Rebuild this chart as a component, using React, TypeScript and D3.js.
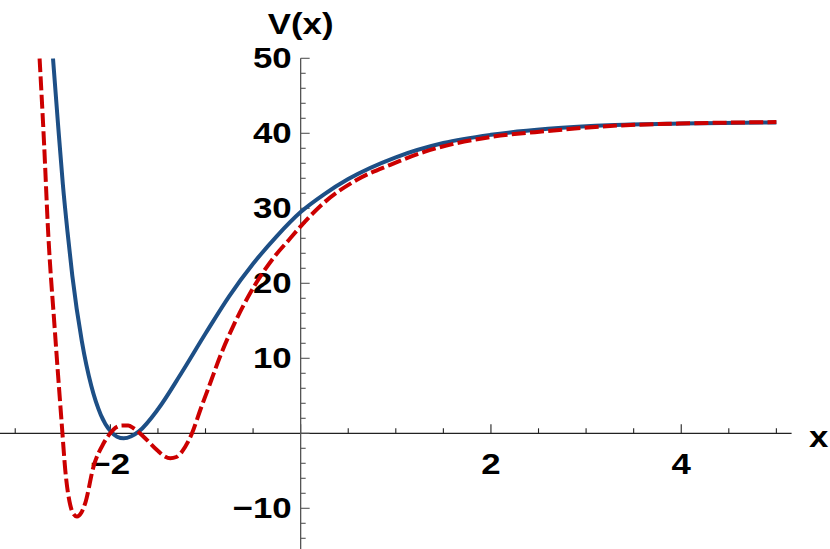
import React from 'react';
import * as d3 from 'd3';

// values
const blueX = [-2.603, -2.55, -2.5, -2.45, -2.4, -2.3, -2.2, -2.1, -2.0, -1.93, -1.86, -1.78, -1.7, -1.5, -1.25, -1.0, -0.75, -0.5, -0.25, 0, 0.25, 0.5, 1.0, 1.5, 2.0, 2.6, 3.3, 4.0, 5.0];
const blueV = [50, 41.2, 33.3, 26.8, 21.0, 12.3, 6.3, 2.45, 0.3, -0.45, -0.67, -0.4, 0.25, 3.2, 8.1, 13.3, 18.3, 22.6, 26.3, 29.5, 31.9, 33.9, 36.8, 38.7, 39.8, 40.6, 41.1, 41.3, 41.45];

const redX = [-2.744, -2.697, -2.655, -2.584, -2.509, -2.474, -2.421, -2.395, -2.351, -2.306, -2.264, -2.177, -2.071, -2.001, -1.948, -1.878, -1.812, -1.756, -1.651, -1.51, -1.444, -1.37, -1.307, -1.248, -1.142, -1.055, -0.95, -0.845, -0.705, -0.53, -0.285, -0.109, 0, 0.241, 0.592, 0.942, 1.292, 1.643, 1.993, 2.589, 3.289, 3.989, 5.0];
const redV = [50, 38.7, 27.1, 13.8, 0.89, -4.9, -9.6, -10.6, -11.1, -10.6, -9.3, -4.45, -1.33, 0, 0.71, 1.04, 1.04, 0.67, -0.45, -2.23, -2.96, -3.33, -3.16, -2.45, 0, 3.11, 6.71, 10.3, 14.4, 18.7, 23.4, 26.0, 27.6, 30.7, 33.8, 35.8, 37.5, 38.7, 39.5, 40.3, 41.0, 41.3, 41.5];

const xMajor = [-2, 2, 4];
const xMinor = d3.range(-3, 5.01, 0.5);
const yMajor = [-10, 10, 20, 30, 40, 50];
const yMinor = d3.range(-14, 50.01, 2);

const W = 830;
const H = 549;

const fmt = (v: number) => (v < 0 ? '\u2212' + Math.abs(v) : String(v));

// bold label, a bit wider than plain Arial like the original
const Label = ({ x, y, anchor = 'start', children }: { x: number; y: number; anchor?: string; children: React.ReactNode }) => (
  <text
    transform={`translate(${x},${y}) scale(1.2,1)`}
    textAnchor={anchor}
    fontFamily="'Liberation Sans', Arial, sans-serif"
    fontWeight='bold'
    fontSize={29}
    fill='#000'>
    {children}
  </text>
);

const App = () => {
  const x = d3.scaleLinear().domain([-3.16, 5.16]).range([0, 791.6]);
  const y = d3.scaleLinear().domain([-15, 50]).range([545.8, 58.3]);

  const line = d3
    .line<[number, number]>()
    .x((d) => x(d[0]))
    .y((d) => y(d[1]))
    .curve(d3.curveMonotoneX);

  const blue = blueX.map((v, i) => [v, blueV[i]] as [number, number]);
  const red = redX.map((v, i) => [v, redV[i]] as [number, number]);

  const x0 = x(0);
  const y0 = y(0);

  return (
    <svg width={W} height={H} style={{ position: 'absolute', left: 0, top: 0, background: '#fff' }}>
      <defs>
        <clipPath id='plot-clip'>
          <rect x={0} y={y(50)} width={W} height={H - y(50)} />
        </clipPath>
      </defs>

      {/* x axis */}
      <line x1={0} x2={x(5.16)} y1={y0} y2={y0} stroke='#222' strokeWidth={1.3} />
      {xMinor.map((t) => (
        <line key={'xt' + t} x1={x(t)} x2={x(t)} y1={y0} y2={y0 - (t % 2 === 0 ? 9 : 5)} stroke='#222' strokeWidth={1.1} />
      ))}
      {xMajor.map((t) => (
        <Label key={'xl' + t} x={x(t)} y={474} anchor='middle'>
          {fmt(t)}
        </Label>
      ))}

      {/* y axis */}
      <line x1={x0} x2={x0} y1={y(50)} y2={H} stroke='#555' strokeWidth={1.3} />
      {yMinor.map((t) => (
        <line key={'yt' + t} x1={x0} x2={x0 + (t % 10 === 0 ? 9 : 5)} y1={y(t)} y2={y(t)} stroke='#555' strokeWidth={1.1} />
      ))}
      {yMajor.map((t) => (
        <Label key={'yl' + t} x={x0 - 9} y={y(t) + 10} anchor='end'>
          {fmt(t)}
        </Label>
      ))}

      {/* curves */}
      <g clipPath='url(#plot-clip)'>
        <path d={line(blue) || ''} fill='none' stroke='#1d4f86' strokeWidth={4} />
        <path d={line(red) || ''} fill='none' stroke='#cc0000' strokeWidth={4} strokeDasharray='14 4.3' />
      </g>

      {/* axis labels */}
      <Label x={x0} y={34} anchor='middle'>
        V(x)
      </Label>
      <Label x={809} y={447}>
        x
      </Label>
    </svg>
  );
};

export default App;
